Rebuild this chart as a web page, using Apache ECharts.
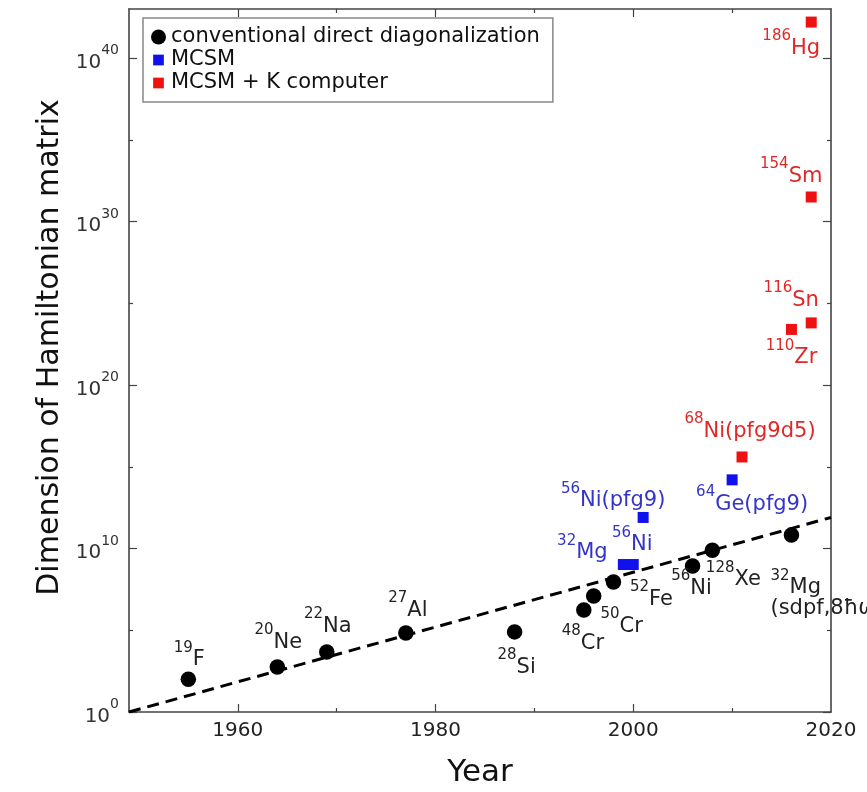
<!DOCTYPE html>
<html><head><meta charset="utf-8">
<script src="https://cdn.jsdelivr.net/npm/echarts@6/dist/echarts.min.js"></script>
<style>html,body{margin:0;padding:0;background:#fff}#c{width:867px;height:792px}</style>
</head><body><div id="c"></div>
<script>
// ---- data (y values are log10 of the Hamiltonian-matrix dimension) ----
const convYears = [1955, 1964, 1969, 1977, 1988, 1995, 1996, 1998, 2006, 2008, 2016];
const convExp   = [2.0, 2.75, 3.67, 4.83, 4.9, 6.24, 7.1, 7.95, 8.93, 9.9, 10.83];
const convMass  = ['19', '20', '22', '27', '28', '48', '50', '52', '56', '128', '32'];
const convElem  = ['F', 'Ne', 'Na', 'Al', 'Si', 'Cr', 'Cr', 'Fe', 'Ni', 'Xe', 'Mg'];
const convNote  = ['', '', '', '', '', '', '', '', '', '', '(sdpf,8ħω)'];

const mcsmYears = [1999, 2000, 2001, 2010];
const mcsmExp   = [9.02, 9.02, 11.9, 14.2];
const mcsmMass  = ['32', '56', '56', '64'];
const mcsmElem  = ['Mg', 'Ni', 'Ni', 'Ge'];
const mcsmNote  = ['', '', '(pfg9)', '(pfg9)'];

const kYears = [2011, 2016, 2018, 2018, 2018];
const kExp   = [15.6, 23.4, 23.8, 31.5, 42.2];
const kMass  = ['68', '110', '116', '154', '186'];
const kElem  = ['Ni', 'Zr', 'Sn', 'Sm', 'Hg'];
const kNote  = ['(pfg9d5)', '', '', '', ''];

const trendYears = [1949, 2020];
const trendExp   = [0, 11.9];

const xLabelYears = [1960, 1980, 2000, 2020];
const xMajorTicks = [1960, 1980, 2000];
const xMinorTicks = [1970, 1990, 2010];
const yLabelExps  = [0, 10, 20, 30, 40];
const yMinorTicks = [5, 15, 25, 35];

const seriesNames = ['conventional direct diagonalization', 'MCSM', 'MCSM + K computer'];

// ---- label placement (style, offsets in px from marker centre) ----
const convLabelLayout = [[1,-24],[1,-29],[1,-30],[2,-27],[2,31],[-1,29],[28,26],[38,13],[-1,18],[21,25],[-21,59,'left']];
const mcsmLabelLayout = [[-41,-16],[-1,-24],[-30,-21],[20,20]];
const kLabelLayout    = [[8,-30],[0,24],[-20,-27],[-20,-25],[-20,22]];

const F = 'DejaVu Sans';
const AX = '#444';
const SQ = 'path://M0,0M14,14M2,2L12,2L12,12L2,12Z';

function richFor(color) {
  return {
    s: {fontSize: 15, fontFamily: F, color: color, verticalAlign: 'bottom', padding: [0, 0, 15, 0]},
    b: {fontSize: 21, fontFamily: F, color: color, verticalAlign: 'bottom'}
  };
}
function points(years, exps, mass, elem, note, layout) {
  return years.map(function (yr, i) {
    const wrap = layout[i][2] === 'left';
    const txt = wrap
      ? '{s|' + mass[i] + '}{b|' + elem[i] + '}\n{b|' + note[i] + '}'
      : '{s|' + mass[i] + '}{b|' + elem[i] + note[i] + '}';
    return {
      value: [yr, exps[i]],
      label: {formatter: txt, align: wrap ? 'left' : 'center'}
    };
  });
}
function scatter(name, data, layout, symbol, size, color, labelColor) {
  return {
    name: name, type: 'scatter', xAxisIndex: 0, yAxisIndex: 0,
    symbol: symbol, symbolSize: size, z: 5,
    itemStyle: {color: color, opacity: 1},
    label: {show: true, position: 'inside', verticalAlign: 'middle', rich: richFor(labelColor)},
    labelLayout: function (p) {
      const l = layout[p.dataIndex];
      return {dx: l[0], dy: l[1], hideOverlap: false, moveOverlap: null};
    },
    emphasis: {disabled: true},
    data: data
  };
}
function xAx(pos, ticks, len, showLine, labels) {
  const a = {
    type: 'value', min: 1949, max: 2020, position: pos,
    axisLine: {show: showLine, onZero: false, lineStyle: {color: AX, width: 1.6}},
    axisTick: {show: true, inside: true, length: len, customValues: ticks, lineStyle: {color: AX, width: 1.2}},
    axisLabel: {show: false},
    splitLine: {show: false}
  };
  if (labels) {
    a.axisLabel = {show: true, customValues: xLabelYears, fontSize: 20, fontFamily: F, color: '#222', margin: 9,
      formatter: function (v) { return String(v); }};
    a.name = 'Year'; a.nameLocation = 'middle'; a.nameGap = 45;
    a.nameTextStyle = {fontSize: 31, fontFamily: F, color: '#111'};
  }
  return a;
}
function yAx(pos, ticks, len, showLine, labels) {
  const a = {
    type: 'value', min: 0, max: 43, position: pos,
    axisLine: {show: showLine, onZero: false, lineStyle: {color: AX, width: 1.6}},
    axisTick: {show: true, inside: true, length: len, customValues: ticks, lineStyle: {color: AX, width: 1.2}},
    axisLabel: {show: false},
    splitLine: {show: false}
  };
  if (labels) {
    a.axisLabel = {
      show: true, customValues: yLabelExps, margin: 10,
      formatter: function (v) { return '{b|10}{s|' + v + '}'; },
      rich: {
        b: {fontSize: 20, fontFamily: F, color: '#333', verticalAlign: 'bottom'},
        s: {fontSize: 14, fontFamily: F, color: '#333', verticalAlign: 'bottom', padding: [0, 0, 15, 0]}
      }
    };
    a.name = 'Dimension of Hamiltonian matrix'; a.nameLocation = 'middle'; a.nameGap = 63;
    a.nameTextStyle = {fontSize: 30, fontFamily: F, color: '#111', padding: [0, 0, 0, 26]};
  }
  return a;
}

const chart = echarts.init(document.getElementById('c'), null, {renderer: 'canvas'});
chart.setOption({
  animation: false,
  backgroundColor: '#fff',
  grid: {left: 129, right: 36, top: 9, bottom: 80, containLabel: false, outerBoundsMode: 'none'},
  legend: {
    orient: 'vertical', left: 143, top: 18,
    data: [{name: seriesNames[0], icon: 'circle'}, {name: seriesNames[1], icon: SQ}, {name: seriesNames[2], icon: SQ}],
    itemWidth: 15, itemHeight: 15, itemGap: 2,
    padding: [8.5, 13, 8.5, 8],
    borderColor: '#888', borderWidth: 1.5, backgroundColor: '#fff', borderRadius: 0,
    textStyle: {fontSize: 21, fontFamily: F, color: '#111'},
    selectedMode: false
  },
  xAxis: [
    xAx('bottom', xMajorTicks, 8, true, true),
    xAx('bottom', xMinorTicks, 4, false, false),
    xAx('top', xMajorTicks, 8, true, false),
    xAx('top', xMinorTicks, 4, false, false)
  ],
  yAxis: [
    yAx('left', yLabelExps, 8, true, true),
    yAx('left', yMinorTicks, 4, false, false),
    yAx('right', yLabelExps, 8, true, false),
    yAx('right', yMinorTicks, 4, false, false)
  ],
  series: [
    {
      name: 'trend', type: 'line', xAxisIndex: 0, yAxisIndex: 0, z: 2,
      symbol: 'none', silent: true,
      lineStyle: {color: '#000', width: 3, type: [12, 7]},
      data: trendYears.map(function (y, i) { return [y, trendExp[i]]; })
    },
    scatter(seriesNames[0], points(convYears, convExp, convMass, convElem, convNote, convLabelLayout), convLabelLayout, 'circle', 15.5, '#000', '#222'),
    scatter(seriesNames[1], points(mcsmYears, mcsmExp, mcsmMass, mcsmElem, mcsmNote, mcsmLabelLayout), mcsmLabelLayout, 'rect', 11, '#1111ee', '#3434c8'),
    scatter(seriesNames[2], points(kYears, kExp, kMass, kElem, kNote, kLabelLayout), kLabelLayout, 'rect', 11, '#ee1111', '#e02828')
  ]
});
</script>
</body></html>
